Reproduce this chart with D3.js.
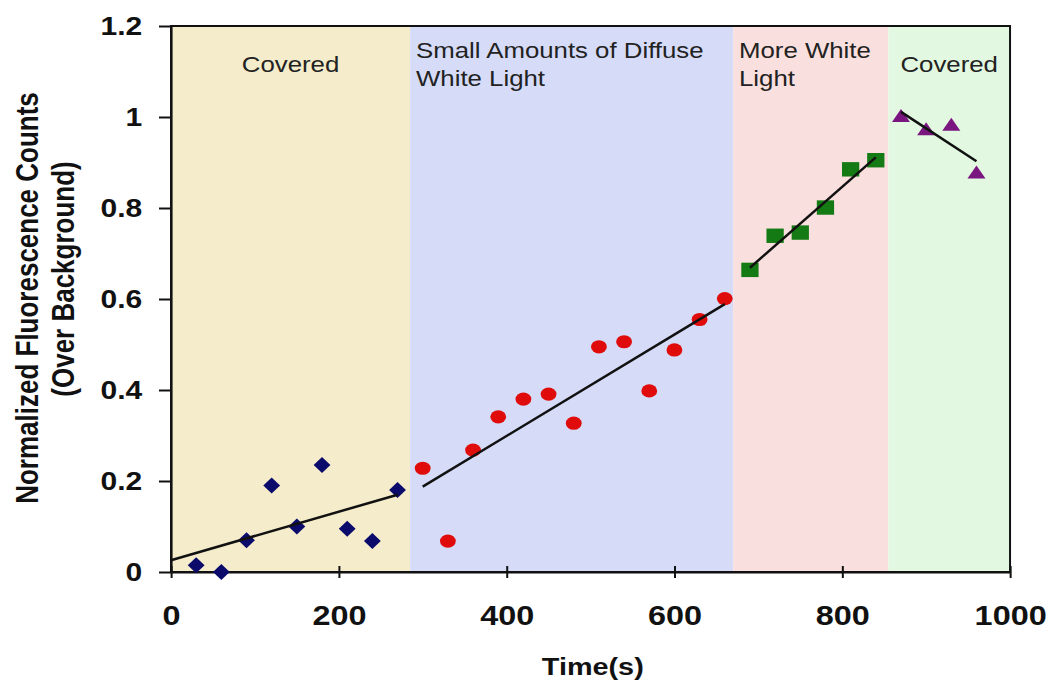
<!DOCTYPE html>
<html>
<head>
<meta charset="utf-8">
<script src="https://cdn.jsdelivr.net/npm/d3@7"></script>
<style>
  body { margin: 0; background: #fff; }
  svg { display: block; }
  line, .domain, .trend, .frame { vector-effect: non-scaling-stroke; }
  text { font-family: "Liberation Sans", Arial, sans-serif; }
</style>
</head>
<body>
<svg id="chart" width="1046" height="681"></svg>
<script>
// data, time step of 30 s
const coveredTime = [30, 60, 90, 120, 150, 180, 210, 240, 270];
const coveredVals = [0.015, 0.0, 0.07, 0.19, 0.1, 0.235, 0.095, 0.068, 0.18];
const diffuseTime = [300, 330, 360, 390, 420, 450, 480, 510, 540, 570, 600, 630, 660];
const diffuseVals = [0.228, 0.068, 0.268, 0.341, 0.38, 0.391, 0.327, 0.495, 0.506, 0.398, 0.488, 0.555, 0.601];
const whiteTime = [690, 720, 750, 780, 810, 840];
const whiteVals = [0.664, 0.739, 0.746, 0.801, 0.885, 0.905];
const covered2Time = [870, 900, 930, 960];
const covered2Vals = [1.0, 0.971, 0.981, 0.876];

const regionBounds = [0, 285, 670, 855, 1000];
const regionColors = ["#F4ECCB", "#D6DCF8", "#F9E0DE", "#E2F8E0"];
const regionLabels = [["Covered"], ["Small Amounts of Diffuse", "White Light"], ["More White", "Light"], ["Covered"]];

const xTicks = [0, 200, 400, 600, 800, 1000];
const yTicks = [0, 0.2, 0.4, 0.6, 0.8, 1, 1.2];

// the original picture is stretched sideways, so draw narrow and stretch the group
const sx = 1.2;

const svg = d3.select("#chart");
const g = svg.append("g").attr("transform", `scale(${sx},1)`);

const x = d3.scaleLinear().domain([0, 1000]).range([142.5, 841.7]);
const y = d3.scaleLinear().domain([0, 1.2]).range([572, 26]);

// background bands
g.selectAll("rect.band")
  .data(regionColors)
  .enter().append("rect")
  .attr("class", "band")
  .attr("x", (d, i) => x(regionBounds[i]))
  .attr("width", (d, i) => x(regionBounds[i + 1]) - x(regionBounds[i]))
  .attr("y", y(1.2))
  .attr("height", y(0) - y(1.2))
  .attr("fill", d => d);

// band labels
regionLabels.forEach((lines, i) => {
  const centred = lines.length == 1;
  const lx = centred ? x((regionBounds[i] + regionBounds[i + 1]) / 2) : x(regionBounds[i] + 7);
  const t = g.append("text")
    .attr("x", lx)
    .attr("y", centred ? 72 : 58)
    .attr("text-anchor", centred ? "middle" : "start")
    .attr("font-size", 21.5)
    .attr("fill", "#222");
  lines.forEach((s, j) => {
    t.append("tspan").attr("x", lx).attr("dy", j == 0 ? 0 : 28).text(s);
  });
});

// frame
g.append("rect").attr("class", "frame")
  .attr("x", x(0)).attr("y", y(1.2))
  .attr("width", x(1000) - x(0)).attr("height", y(0) - y(1.2))
  .attr("fill", "none").attr("stroke", "#111").attr("stroke-width", 2);

// axes
const yAxis = g.append("g")
  .attr("transform", `translate(${x(0)},0)`)
  .call(d3.axisLeft(y).tickValues(yTicks).tickSizeOuter(0).tickSizeInner(10).tickPadding(14)
    .tickFormat(d => String(+d.toFixed(1))));
yAxis.selectAll("text").attr("font-size", 25).attr("font-weight", "bold").attr("fill", "#111")
  .attr("font-family", "Liberation Sans, Arial, sans-serif");
yAxis.selectAll("line, path").attr("stroke", "#111").attr("stroke-width", 2);

const xAxis = g.append("g")
  .attr("transform", `translate(0,${y(0)})`)
  .call(d3.axisBottom(x).tickValues(xTicks).tickSizeOuter(0).tickSizeInner(6).tickPadding(28)
    .tickFormat(d3.format("d")));
xAxis.selectAll(".tick line").attr("y1", -6).attr("y2", 6);
xAxis.selectAll("text").attr("font-size", 27).attr("font-weight", "bold").attr("fill", "#111")
  .attr("font-family", "Liberation Sans, Arial, sans-serif");
xAxis.selectAll("line, path").attr("stroke", "#111").attr("stroke-width", 2);

// axis titles
g.append("text")
  .attr("transform", `translate(31.7,298) rotate(-90)`)
  .attr("text-anchor", "middle").attr("font-size", 26).attr("font-weight", "bold").attr("fill", "#111")
  .text("Normalized Fluorescence Counts");
g.append("text")
  .attr("transform", `translate(61.7,279) rotate(-90)`)
  .attr("text-anchor", "middle").attr("font-size", 26).attr("font-weight", "bold").attr("fill", "#111")
  .text("(Over Background)");
g.append("text")
  .attr("x", 494).attr("y", 675)
  .attr("text-anchor", "middle").attr("font-size", 24).attr("font-weight", "bold").attr("fill", "#111")
  .text("Time(s)");

// least squares trend line
function fit(xs, ys) {
  const mx = d3.mean(xs), my = d3.mean(ys);
  const b = d3.sum(xs, (v, i) => (v - mx) * (ys[i] - my)) / d3.sum(xs, v => (v - mx) * (v - mx));
  return t => my + b * (t - mx);
}

const diamond = { draw(ctx) { ctx.moveTo(0, -8); ctx.lineTo(7, 0); ctx.lineTo(0, 8); ctx.lineTo(-7, 0); ctx.closePath(); } };
const square = { draw(ctx) { ctx.rect(-7.2, -7.2, 14.4, 14.4); } };
const triangle = { draw(ctx) { ctx.moveTo(0, -8); ctx.lineTo(7.5, 5); ctx.lineTo(-7.5, 5); ctx.closePath(); } };

const series = [
  { t: coveredTime, v: coveredVals, color: "#0B0B6B", shape: diamond, from: 0 },
  { t: diffuseTime, v: diffuseVals, color: "#E00B0B", shape: null },
  { t: whiteTime, v: whiteVals, color: "#147A14", shape: square },
  { t: covered2Time, v: covered2Vals, color: "#7A1680", shape: triangle }
];

const line = d3.line().x(d => x(d[0])).y(d => y(d[1]));

series.forEach(s => {
  const f = fit(s.t, s.v);
  const t0 = s.from != null ? s.from : d3.min(s.t);
  const t1 = d3.max(s.t);
  const pts = s.t.map((t, i) => [t, s.v[i]]);
  if (s.shape) {
    g.selectAll(null).data(pts).enter().append("path")
      .attr("transform", d => `translate(${x(d[0])},${y(d[1])})`)
      .attr("d", d3.symbol().type(s.shape))
      .attr("fill", s.color);
  } else {
    g.selectAll(null).data(pts).enter().append("circle")
      .attr("cx", d => x(d[0])).attr("cy", d => y(d[1])).attr("r", 6.6)
      .attr("fill", s.color);
  }
  g.append("path").attr("class", "trend")
    .attr("d", line([[t0, f(t0)], [t1, f(t1)]]))
    .attr("fill", "none").attr("stroke", "#111").attr("stroke-width", 2.5);
});
</script>
</body>
</html>
